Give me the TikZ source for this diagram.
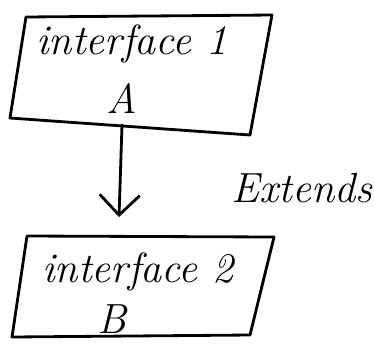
\documentclass[tikz,border=0pt]{standalone}
\usepackage{tikz}
\usetikzlibrary{arrows.meta}

\begin{document}
\begin{tikzpicture}[%
  pen/.style={line width=1.6pt, line join=round, line cap=round},
  label/.style={font=\fontsize{24}{28}\selectfont\itshape, inner sep=0pt},
  extends/.style={pen, -{Straight Barb[length=4mm,width=8mm,line width=1.6pt]}}]

\useasboundingbox (0,0) rectangle (7.48,7.0);

% corners of the two boxes
\coordinate (a1) at (0.52,6.66);
\coordinate (a2) at (5.44,6.70);
\coordinate (a3) at (5.00,4.30);
\coordinate (a4) at (0.20,4.64);
\coordinate (b1) at (0.54,2.28);
\coordinate (b2) at (5.48,2.26);
\coordinate (b3) at (5.00,0.30);
\coordinate (b4) at (0.24,0.26);

\draw[pen] (a1) -- (a2) -- (a3) -- (a4) -- cycle;
\draw[pen] (b1) -- (b2) -- (b3) -- (b4) -- cycle;

\node[label] (ifaceA) at (2.64,6.12) {interface 1};
\node[label] (nameA) at (2.44,5.04) {A};
\node[label] (ifaceB) at (2.76,1.56) {interface 2};
\node[label] (nameB) at (2.24,0.62) {B};

% inheritance arrow
\coordinate (from) at (2.44,4.50);
\coordinate (to) at (2.38,2.66);
\draw[extends] (from) -- (to);
\node[label] (ext) at (6.04,3.24) {Extends};

\end{tikzpicture}
\end{document}
